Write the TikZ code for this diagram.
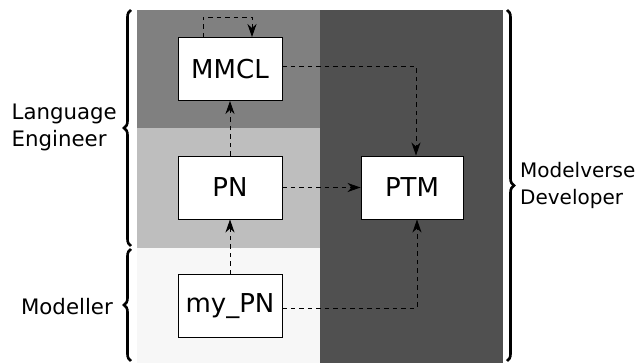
\documentclass[tikz,border=0pt]{standalone}
\usepackage{fontspec}
\setmainfont{DejaVu Sans}
\usetikzlibrary{arrows.meta,decorations.pathreplacing}
\definecolor{topgray}{HTML}{808080}
\definecolor{midgray}{HTML}{BEBEBE}
\definecolor{lowgray}{HTML}{F7F7F7}
\definecolor{darkgray}{HTML}{505050}
\begin{document}
\begin{tikzpicture}[x=1pt,y=-1pt,
  box/.style={draw=black, line width=0.9pt, fill=white, minimum width=104pt, minimum height=63pt,
    inner sep=0pt, font=\fontsize{26}{30}\selectfont},
  flow/.style={dashed, dash pattern=on 4.5pt off 4pt, line width=0.9pt,
    -{Stealth[length=13pt,width=9pt,inset=4pt]}},
  bracket/.style={line width=2.6pt, decorate, decoration={brace, amplitude=7pt}},
  role/.style={font=\fontsize{21.3}{27}\selectfont, align=left, inner sep=0pt}]
\useasboundingbox (0,0) rectangle (635,363);
% swimlane backgrounds
\fill[topgray] (137,10) rectangle (320,128);
\fill[midgray] (137,128) rectangle (320,248);
\fill[lowgray] (137,248) rectangle (320,363);
\fill[darkgray] (320,10) rectangle (503,363);
% artefacts
\node[box] (mmcl) at (230,69) {MMCL};
\node[box] (pn) at (230,187.5) {PN};
\node[box] (mypn) at (230,306) {my\_PN};
\node[box, minimum width=102pt] (ptm) at (412,187.5) {PTM};
% conformance / transformation relations
\coordinate (loopA) at (203,17);
\coordinate (loopB) at (252,17);
\draw[flow] (mmcl.north -| loopA) -- (loopA) -- (loopB) -- (mmcl.north -| loopB);
\draw[flow] (pn) -- (mmcl);
\draw[flow] (mypn) -- (pn);
\draw[flow] ([yshift=3pt]mmcl.east) -| ([xshift=4pt]ptm.north);
\draw[flow] (pn) -- (ptm);
\draw[flow] ([yshift=-2pt]mypn.east) -| ([xshift=5pt]ptm.south);
% role braces
\coordinate (leTop) at (131,10);
\coordinate (leBot) at (131,246);
\coordinate (moTop) at (131,249);
\coordinate (moBot) at (131,361);
\coordinate (mdTop) at (507,10);
\coordinate (mdBot) at (507,361);
\draw[bracket] (leBot) -- (leTop);
\draw[bracket] (moBot) -- (moTop);
\draw[bracket] (mdTop) -- (mdBot);
\node[role, anchor=east] (le) at (117,127) {Language\\Engineer};
\node[role, anchor=east] (mo) at (113,307) {Modeller};
\node[role, anchor=west, font=\fontsize{20}{27}\selectfont] (md) at (520,185) {Modelverse\\Developer};
\end{tikzpicture}
\end{document}
